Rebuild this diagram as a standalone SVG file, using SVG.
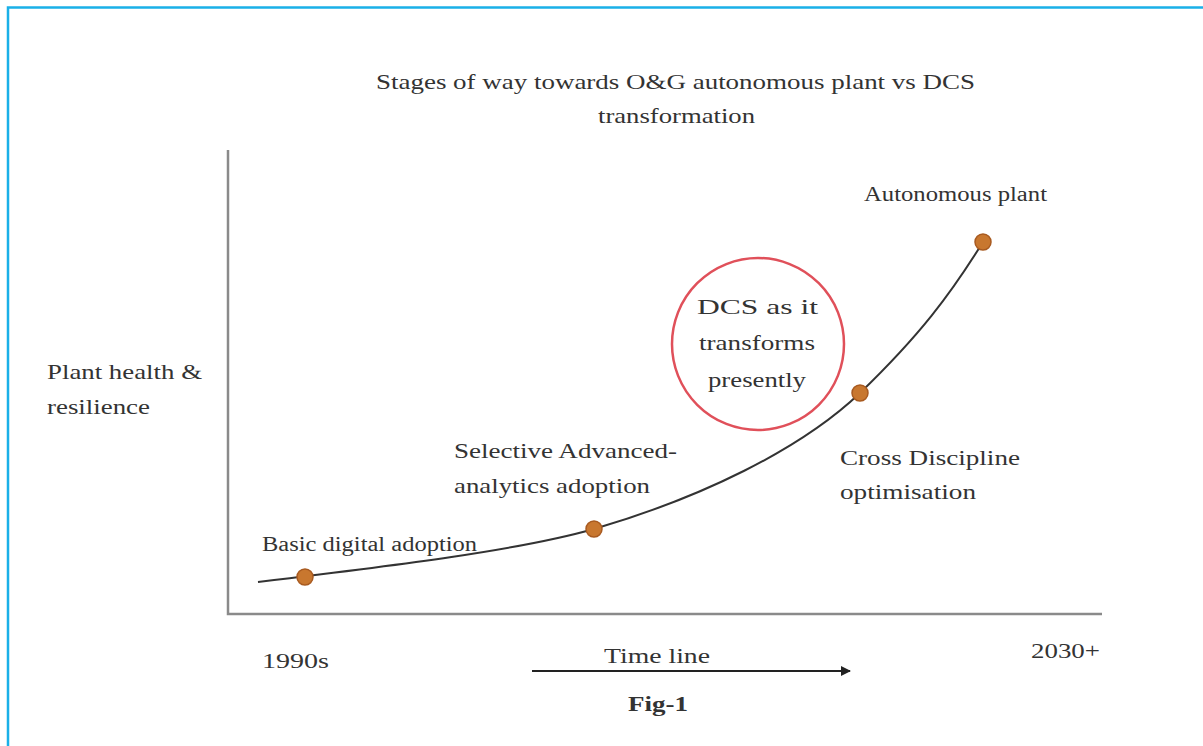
<svg xmlns="http://www.w3.org/2000/svg" width="1203" height="746" viewBox="0 0 1203 746">
<defs>
<style>
.t{font-family:"Liberation Serif","Times New Roman",serif;font-size:22px;fill:#333}
.s{font-size:20px}
.dot{fill:#c8772f;stroke:#a85a20;stroke-width:1.5}
.ax{stroke:#8a8a8a;stroke-width:2.5;fill:none}
</style>
<marker id="ah" markerWidth="10" markerHeight="10" refX="9" refY="5" orient="auto" markerUnits="userSpaceOnUse"><path d="M0,0 L10,5 L0,10 z" fill="#222"/></marker>
</defs>
<rect width="1203" height="746" fill="#fff"/>
<path d="M8,746 V7.5 H1203" fill="none" stroke="#1ab0e8" stroke-width="2.5"/>
<g id="title">
<text class="t" x="376" y="89" textLength="599" lengthAdjust="spacingAndGlyphs">Stages of way towards O&amp;G autonomous plant vs DCS</text>
<text class="t" x="598" y="123" textLength="157" lengthAdjust="spacingAndGlyphs">transformation</text>
</g>
<g id="axes">
<path class="ax" d="M228,150 V614 H1102"/>
</g>
<g id="connectors">
<path d="M258,582 C400,565 520,550 594,529 C700,498 800,450 860,393 C920,335 950,295 983,242" fill="none" stroke="#333" stroke-width="2"/>
<line x1="532" y1="671" x2="850" y2="671" stroke="#222" stroke-width="2" marker-end="url(#ah)"/>
</g>
<g id="ylabel">
<text class="t" x="47" y="379" textLength="155" lengthAdjust="spacingAndGlyphs">Plant health &amp;</text>
<text class="t" x="47" y="414" textLength="103" lengthAdjust="spacingAndGlyphs">resilience</text>
</g>
<g id="n1"><circle class="dot" cx="305" cy="577" r="8"/><text class="t s" x="262" y="551" textLength="215" lengthAdjust="spacingAndGlyphs">Basic digital adoption</text></g>
<g id="n2"><circle class="dot" cx="594" cy="529" r="8"/><text class="t" x="454" y="458" textLength="223" lengthAdjust="spacingAndGlyphs">Selective Advanced-</text><text class="t" x="454" y="493" textLength="196" lengthAdjust="spacingAndGlyphs">analytics adoption</text></g>
<g id="n3"><circle class="dot" cx="860" cy="393" r="8"/><text class="t" x="840" y="465" textLength="180" lengthAdjust="spacingAndGlyphs">Cross Discipline</text><text class="t" x="840" y="499" textLength="136" lengthAdjust="spacingAndGlyphs">optimisation</text></g>
<g id="n4"><circle class="dot" cx="983" cy="242" r="8"/><text class="t s" x="864" y="201" textLength="183" lengthAdjust="spacingAndGlyphs">Autonomous plant</text></g>
<g id="dcs">
<circle cx="758" cy="344" r="86" fill="none" stroke="#e0505a" stroke-width="2.5"/>
<text class="t" x="697" y="314" textLength="121" lengthAdjust="spacingAndGlyphs">DCS as it</text>
<text class="t" x="699" y="350" textLength="116" lengthAdjust="spacingAndGlyphs">transforms</text>
<text class="t" x="708" y="387" textLength="98" lengthAdjust="spacingAndGlyphs">presently</text>
</g>
<g id="xlabels">
<text class="t" x="262" y="668" textLength="67" lengthAdjust="spacingAndGlyphs">1990s</text>
<text class="t" x="1031" y="658" textLength="69" lengthAdjust="spacingAndGlyphs">2030+</text>
<text class="t" x="604" y="663" textLength="106" lengthAdjust="spacingAndGlyphs">Time line</text>
<text class="t" x="628" y="711" font-weight="bold" textLength="60" lengthAdjust="spacingAndGlyphs">Fig-1</text>
</g>
</svg>
